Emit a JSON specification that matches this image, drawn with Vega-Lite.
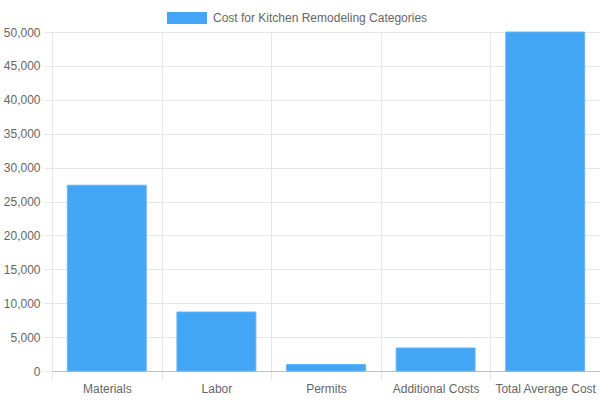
{
  "$schema": "https://vega.github.io/schema/vega-lite/v6.json",
  "autosize": "none",
  "width": 548,
  "height": 339,
  "padding": {"left": 52, "top": 32, "right": 0, "bottom": 29},
  "background": "white",
  "data": {
    "values": [
      {"category": "Materials", "cost": 27400},
      {"category": "Labor", "cost": 8700},
      {"category": "Permits", "cost": 950},
      {"category": "Additional Costs", "cost": 3400},
      {"category": "Total Average Cost", "cost": 50000}
    ]
  },
  "mark": {"type": "bar", "stroke": "#64b5f6", "strokeWidth": 1, "width": {"band": 0.72}},
  "encoding": {
    "x": {
      "field": "category",
      "type": "nominal",
      "sort": null,
      "scale": {"paddingInner": 0, "paddingOuter": 0},
      "axis": {
        "title": null,
        "labelAngle": 0,
        "tickBand": "extent",
        "grid": true,
        "gridColor": "#e6e6e6",
        "tickColor": "#e6e6e6",
        "tickSize": 8,
        "domainColor": "#bfbfbf",
        "labelPadding": 4,
        "labelFont": "Liberation Sans",
        "labelFontSize": 12,
        "labelColor": "#666666"
      }
    },
    "y": {
      "field": "cost",
      "type": "quantitative",
      "scale": {"domain": [0, 50000], "nice": false},
      "axis": {
        "title": null,
        "values": [0, 5000, 10000, 15000, 20000, 25000, 30000, 35000, 40000, 45000, 50000],
        "format": ",d",
        "grid": true,
        "gridColor": "#e6e6e6",
        "tickColor": "#e6e6e6",
        "tickSize": 8,
        "domainColor": "#e6e6e6",
        "labelPadding": 4,
        "labelFont": "Liberation Sans",
        "labelFontSize": 12,
        "labelColor": "#666666"
      }
    },
    "color": {
      "datum": "Cost for Kitchen Remodeling Categories",
      "type": "nominal",
      "scale": {"range": ["#42a5f5"]},
      "legend": {
        "title": null,
        "orient": "none",
        "legendX": 115,
        "legendY": -34,
        "symbolType": "M-1,-0.3H1V0.3H-1Z",
        "symbolSize": 1600,
        "symbolStrokeWidth": 0,
        "labelFont": "Liberation Sans",
        "labelFontSize": 12,
        "labelColor": "#666666",
        "labelOffset": 6,
        "labelLimit": 400,
        "padding": 0
      }
    }
  },
  "config": {
    "view": {"stroke": null},
    "axis": {"domainWidth": 1, "gridWidth": 1}
  }
}
